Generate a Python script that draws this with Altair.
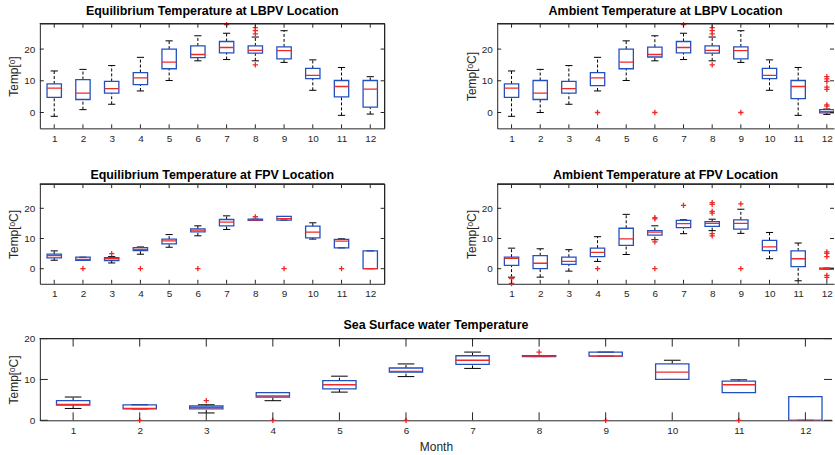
import altair as alt
import pandas as pd

months = list(range(1, 13))

# ---------- Equilibrium Temperature at LBPV ----------
eq_lbpv_q1 = [4.8, 4.1, 6.1, 8.8, 13.8, 17.3, 18.8, 18.7, 16.9, 10.7, 4.9, 1.7]
eq_lbpv_med = [7.7, 6.1, 7.5, 10.9, 15.9, 18.3, 20.5, 19.6, 19.5, 11.7, 8.2, 7.4]
eq_lbpv_q3 = [9.0, 10.4, 9.8, 12.6, 20.0, 21.0, 22.4, 21.0, 20.7, 13.9, 10.1, 10.1]
eq_lbpv_lo = [-1.2, 0.9, 2.6, 6.8, 10.1, 16.3, 16.7, 16.3, 15.8, 7.0, -0.9, -0.5]
eq_lbpv_hi = [13.1, 13.6, 14.8, 17.4, 22.6, 24.2, 25.0, 23.8, 25.8, 16.6, 14.2, 11.3]
eq_lbpv_out = {7: [27.7], 8: [24.8, 25.8, 26.8, 15.0]}

# ---------- Ambient Temperature at LBPV ----------
amb_lbpv_q1 = [4.8, 4.1, 6.1, 8.5, 13.8, 17.5, 18.8, 18.7, 16.9, 10.7, 4.4, -0.1]
amb_lbpv_med = [7.7, 6.1, 7.5, 10.9, 15.9, 18.3, 20.5, 19.6, 19.5, 11.7, 8.2, 0.3]
amb_lbpv_q3 = [9.0, 10.1, 9.8, 12.6, 20.0, 20.6, 22.4, 21.0, 20.7, 13.9, 10.1, 0.9]
amb_lbpv_lo = [-1.2, 0.0, 2.6, 6.8, 10.1, 16.3, 16.7, 16.3, 15.8, 7.0, -0.9, -0.6]
amb_lbpv_hi = [13.1, 13.6, 14.8, 17.4, 22.6, 24.2, 25.0, 23.8, 25.8, 16.6, 14.2, 1.1]
amb_lbpv_out = {4: [0.0], 6: [0.0], 7: [27.7], 8: [24.8, 25.8, 26.8, 15.0],
                9: [0.0], 12: [11.3, 10.6, 9.8, 8.0, 7.3, 2.4, 2.0]}

# ---------- Equilibrium Temperature at FPV ----------
eq_fpv_q1 = [3.6, 2.8, 2.7, 6.0, 8.2, 12.2, 14.2, 16.0, 16.1, 10.2, 6.9, 0.0]
eq_fpv_med = [4.3, 3.1, 3.3, 6.4, 9.2, 12.8, 15.4, 16.2, 16.6, 12.1, 9.1, 0.0]
eq_fpv_q3 = [4.8, 3.8, 3.7, 7.0, 9.8, 13.2, 16.3, 16.4, 17.3, 14.1, 9.7, 5.9]
eq_fpv_lo = [2.8, 2.8, 1.9, 4.8, 7.1, 10.9, 13.0, 16.0, 16.1, 9.8, 6.9, 0.0]
eq_fpv_hi = [5.9, 3.8, 4.0, 7.2, 11.3, 14.2, 17.5, 16.4, 17.3, 15.2, 9.9, 5.9]
eq_fpv_out = {2: [0.0], 3: [5.0], 4: [0.0], 6: [0.0], 8: [17.2], 9: [0.0], 11: [0.0]}

# ---------- Ambient Temperature at FPV ----------
amb_fpv_q1 = [1.1, 0.0, 1.4, 4.0, 7.7, 11.1, 13.6, 14.0, 13.1, 6.0, 0.7, -0.1]
amb_fpv_med = [3.4, 1.8, 2.4, 5.4, 9.9, 12.1, 14.9, 15.0, 15.0, 7.2, 3.3, 0.0]
amb_fpv_q3 = [3.8, 4.3, 3.8, 6.8, 13.4, 12.6, 16.0, 15.6, 16.2, 9.4, 5.9, 0.2]
amb_fpv_lo = [-2.8, -2.8, -0.8, 2.4, 4.7, 9.6, 11.6, 12.6, 11.7, 3.3, -4.0, -0.1]
amb_fpv_hi = [6.8, 6.6, 6.3, 10.6, 18.0, 14.2, 16.2, 16.4, 19.7, 12.0, 8.5, 0.2]
amb_fpv_out = {1: [-3.3, -4.9], 4: [0.0], 6: [16.9, 16.5, 8.9, 0.0], 7: [21.0],
               8: [21.9, 21.3, 19.0, 18.4, 11.6, 10.9], 9: [21.5, 0.0],
               12: [5.6, 5.1, 4.0, -2.2, -2.9]}

# ---------- Sea Surface water Temperature ----------
sst_q1 = [3.7, 2.8, 2.8, 5.7, 7.7, 11.8, 13.7, 15.6, 15.7, 10.0, 6.8, 0.0]
sst_med = [3.9, 2.9, 3.1, 6.0, 8.7, 12.0, 14.7, 15.7, 15.7, 11.8, 8.7, 0.0]
sst_q3 = [4.8, 3.8, 3.5, 6.8, 9.7, 12.8, 15.8, 15.8, 16.7, 13.8, 9.6, 5.8]
sst_lo = [2.9, 2.8, 1.8, 4.8, 6.9, 10.7, 12.7, 15.6, 15.7, 10.0, 6.8, 0.0]
sst_hi = [5.7, 3.8, 3.8, 6.8, 10.8, 13.8, 16.7, 15.8, 16.7, 14.7, 9.9, 5.8]
sst_out = {2: [0.0], 3: [4.8], 4: [0.0], 6: [0.0], 8: [16.7], 9: [0.0], 11: [0.0]}

y_ticks_small = [0, 10, 20]

FONT = "Liberation Sans"
AX = "#262626"
BLUE = "#2350c0"
RED = "#f02828"
PLUS = "M-1,0L1,0M0,-1L0,1"


def panel(title, ytitle, q1, med, q3, lo, hi, outl, width, height, xmax,
          ydom, yvals, tick, right_frame, xtitle=None):
    df = pd.DataFrame(dict(month=months, q1=q1, med=med, q3=q3, lo=lo, hi=hi))
    od = pd.DataFrame([(m, v) for m, vs in outl.items() for v in vs],
                      columns=["month", "val"])
    tk = pd.DataFrame(dict(month=months))
    yv = pd.DataFrame(dict(v=yvals))

    xs = alt.Scale(domain=[0.5, xmax], nice=False, zero=False)
    ys = alt.Scale(domain=ydom, nice=False, zero=False)
    xkw = dict(values=months, ticks=False, grid=False, domainColor=AX,
               labelColor=AX, labelFont=FONT, labelFontSize=10, labelPadding=5,
               labelFlush=False, titleFont=FONT, titleFontSize=12,
               titleFontWeight="normal", titleColor=AX, titlePadding=6)
    if xtitle:
        xaxis = alt.Axis(title=xtitle, **xkw)
    else:
        xaxis = alt.Axis(title=None, **xkw)
    yaxis = alt.Axis(values=yvals, ticks=False, grid=False, domainColor=AX,
                     labelColor=AX, labelFont=FONT, labelFontSize=10,
                     labelPadding=5, title=ytitle, titleFont=FONT,
                     titleFontSize=12, titleFontWeight="normal",
                     titleColor=AX, titlePadding=3, minExtent=16, maxExtent=16)

    def X(f):
        return alt.X(f, type="quantitative", scale=xs, axis=xaxis)

    def Y(f):
        return alt.Y(f, type="quantitative", scale=ys, axis=yaxis)

    base = alt.Chart(df).transform_calculate(
        bl="datum.month - 0.25", br="datum.month + 0.25",
        cl="datum.month - 0.125", cr="datum.month + 0.125")

    wh_up = base.mark_rule(color="black", strokeDash=[3, 2], clip=True).encode(
        x=X("month"), y=Y("q3"), y2="hi")
    wh_lo = base.mark_rule(color="black", strokeDash=[3, 2], clip=True).encode(
        x=X("month"), y=Y("lo"), y2="q1")
    cap_hi = base.mark_rule(color="black", clip=True).encode(
        x=X("cl"), x2="cr", y=Y("hi"))
    cap_lo = base.mark_rule(color="black", clip=True).encode(
        x=X("cl"), x2="cr", y=Y("lo"))
    box = base.mark_rect(fill="white", fillOpacity=0, stroke=BLUE,
                         strokeWidth=1.3, clip=True).encode(
        x=X("bl"), x2="br", y=Y("q1"), y2="q3")
    median = base.mark_rule(color=RED, strokeWidth=1.3, clip=True).encode(
        x=X("bl"), x2="br", y=Y("med"))
    outs = alt.Chart(od).mark_point(shape=PLUS, filled=False, color=RED,
                                    strokeWidth=1.3, size=28, opacity=1).encode(
        x=X("month"), y=Y("val"))

    top_ticks = alt.Chart(tk).mark_rule(color=AX).encode(
        x=X("month"), y=alt.value(0), y2=alt.value(tick))
    bot_ticks = alt.Chart(tk).mark_rule(color=AX).encode(
        x=X("month"), y=alt.value(height - tick), y2=alt.value(height))
    left_ticks = alt.Chart(yv).mark_rule(color=AX).encode(
        y=Y("v"), x=alt.value(0), x2=alt.value(tick))
    right_ticks = alt.Chart(yv).mark_rule(color=AX).encode(
        y=Y("v"), x=alt.value(width - tick), x2=alt.value(width))
    top_frame = alt.Chart(yv).mark_rule(color=AX).encode(
        x=alt.value(0), x2=alt.value(width), y=alt.value(0))

    layers = [wh_up, wh_lo, cap_hi, cap_lo, box, median, outs,
              top_ticks, bot_ticks, left_ticks, right_ticks, top_frame]
    if right_frame:
        layers.append(alt.Chart(yv).mark_rule(color=AX).encode(
            x=alt.value(width), y=alt.value(0), y2=alt.value(height)))

    return alt.layer(*layers).properties(
        width=width, height=height,
        title=alt.TitleParams(title, font=FONT, fontSize=12.5, fontWeight="bold",
                              color="black", offset=2))


LW, RW = 346, 338
p1 = panel("Equilibrium Temperature at LBPV Location", "Temp[ᵒ]",
           eq_lbpv_q1, eq_lbpv_med, eq_lbpv_q3, eq_lbpv_lo, eq_lbpv_hi, eq_lbpv_out,
           LW, 105, 12.5, [-5, 28], y_ticks_small, 4, True)
p2 = panel("Ambient Temperature at LBPV Location", "Temp[ᵒC]",
           amb_lbpv_q1, amb_lbpv_med, amb_lbpv_q3, amb_lbpv_lo, amb_lbpv_hi, amb_lbpv_out,
           RW, 105, 12.25, [-5, 28], y_ticks_small, 4, False)
p3 = panel("Equilibrium Temperature at FPV Location", "Temp[ᵒC]",
           eq_fpv_q1, eq_fpv_med, eq_fpv_q3, eq_fpv_lo, eq_fpv_hi, eq_fpv_out,
           LW, 100, 12.5, [-5, 28], y_ticks_small, 4, True)
p4 = panel("Ambient Temperature at FPV Location", "Temp[ᵒC]",
           amb_fpv_q1, amb_fpv_med, amb_fpv_q3, amb_fpv_lo, amb_fpv_hi, amb_fpv_out,
           RW, 100, 12.25, [-5, 28], y_ticks_small, 4, False)
p5 = panel("Sea Surface water Temperature", "Temp[ᵒC]",
           sst_q1, sst_med, sst_q3, sst_lo, sst_hi, sst_out,
           795, 82, 12.4, [0, 20], y_ticks_small, 8, False, xtitle="Month")

row1 = alt.hconcat(p1, p2, spacing=80)
row2 = alt.hconcat(p3, p4, spacing=80)
top = alt.vconcat(row1, row2, spacing=26)
chart = alt.vconcat(top, p5, spacing=20).properties(
    padding={"left": 8, "top": 4, "right": 0, "bottom": 0},
    background="white",
).configure_view(stroke=None)

chart.save("out.html", embed_options={"renderer": "svg", "actions": False})
